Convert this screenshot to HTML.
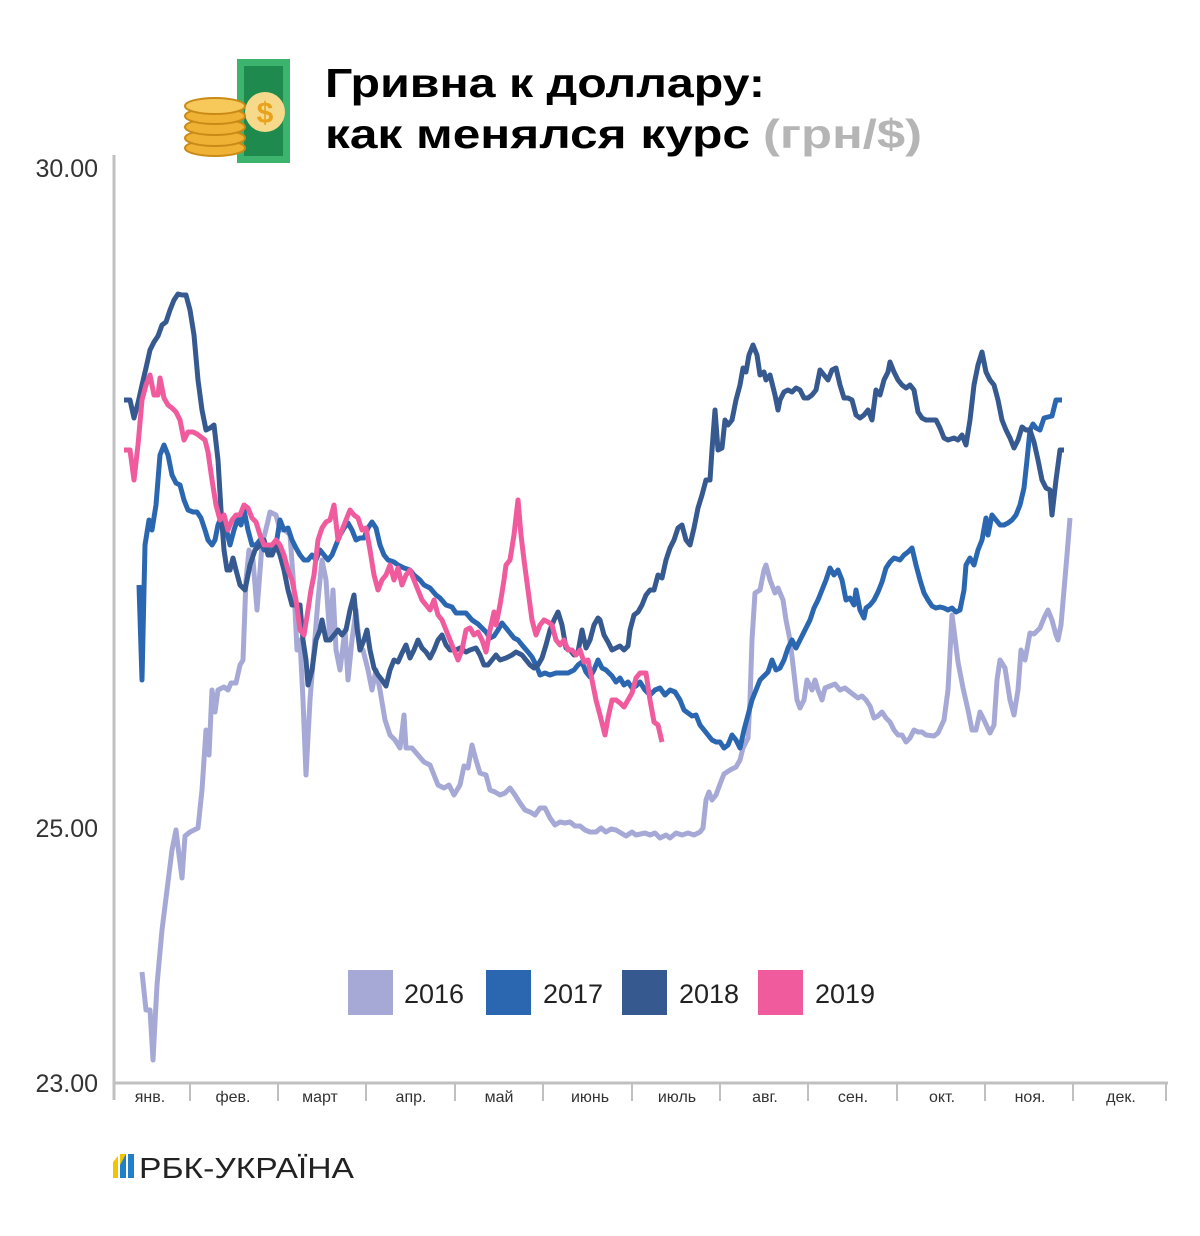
<!DOCTYPE html>
<html><head><meta charset="utf-8"><style>
body{margin:0;background:#fff;width:1200px;height:1231px;overflow:hidden;font-family:"Liberation Sans",sans-serif}
</style></head><body>
<svg width="1200" height="1231" viewBox="0 0 1200 1231" xmlns="http://www.w3.org/2000/svg" font-family="Liberation Sans, sans-serif">
<!-- icon -->
<rect x="237" y="59" width="53" height="104" fill="#3cb46e"/>
<rect x="244" y="66" width="39" height="90" fill="#1f8a4e"/>
<circle cx="265" cy="112" r="20" fill="#f6d98a"/>
<text x="265" y="123" font-size="30" font-weight="bold" fill="#e8a21c" text-anchor="middle">$</text>
<g fill="#f0b234" stroke="#c98a18" stroke-width="2">
<ellipse cx="215" cy="148" rx="30" ry="8"/><ellipse cx="215" cy="138" rx="30" ry="8"/><ellipse cx="215" cy="127" rx="30" ry="8"/><ellipse cx="215" cy="116" rx="30" ry="8"/><ellipse cx="215" cy="106" rx="30" ry="8" fill="#f7c95a"/>
</g>
<text x="325" y="97" font-size="41" font-weight="bold" fill="#000" textLength="440" lengthAdjust="spacingAndGlyphs">Гривна к доллару:</text>
<text x="325" y="148" font-size="41" font-weight="bold" fill="#000" textLength="425" lengthAdjust="spacingAndGlyphs">как менялся курс</text>
<text x="763" y="148" font-size="41" font-weight="bold" fill="#b5b5b5" textLength="159" lengthAdjust="spacingAndGlyphs">(грн/$)</text>
<!-- axes -->
<line x1="114" y1="155" x2="114" y2="1100" stroke="#c0c0c0" stroke-width="3"/>
<line x1="114" y1="1083" x2="1168" y2="1083" stroke="#c0c0c0" stroke-width="3"/>
<g stroke="#c0c0c0" stroke-width="2">
<line x1="190" y1="1083" x2="190" y2="1101"/><line x1="278" y1="1083" x2="278" y2="1101"/><line x1="366" y1="1083" x2="366" y2="1101"/><line x1="455" y1="1083" x2="455" y2="1101"/><line x1="543" y1="1083" x2="543" y2="1101"/><line x1="632" y1="1083" x2="632" y2="1101"/><line x1="720" y1="1083" x2="720" y2="1101"/><line x1="808" y1="1083" x2="808" y2="1101"/><line x1="897" y1="1083" x2="897" y2="1101"/><line x1="985" y1="1083" x2="985" y2="1101"/><line x1="1073" y1="1083" x2="1073" y2="1101"/><line x1="1166" y1="1083" x2="1166" y2="1101"/>
</g>
<g font-size="16" fill="#333" text-anchor="middle">
<text x="150" y="1102">янв.</text><text x="233" y="1102">фев.</text><text x="320" y="1102">март</text><text x="411" y="1102">апр.</text><text x="499" y="1102">май</text><text x="590" y="1102">июнь</text><text x="677" y="1102">июль</text><text x="765" y="1102">авг.</text><text x="853" y="1102">сен.</text><text x="942" y="1102">окт.</text><text x="1030" y="1102">ноя.</text><text x="1121" y="1102">дек.</text>
</g>
<g font-size="25" fill="#333" text-anchor="end">
<text x="98" y="177">30.00</text><text x="98" y="837">25.00</text><text x="98" y="1092">23.00</text>
</g>
<g fill="none" stroke-width="5" stroke-linejoin="round">
<polyline stroke="#a6a9d6" points="142,972 146,1010 150,1010 153,1060 157,985 162,930 167,890 172,850 176,830 179,855 182,878 185,836 190,832 198,828 202,790 206,730 209,755 212,690 215,712 218,690 224,687 228,690 231,683 236,683 240,665 243,660 246,580 249,550 253,560 257,610 262,545 267,525 270,512 276,515 280,530 285,530 290,535 294,590 297,650 300,640 303,700 306,775 310,700 314,650 318,600 322,560 326,580 330,640 333,590 336,650 340,670 345,630 348,680 352,640 356,610 360,650 363,650 368,670 372,690 376,670 380,690 385,720 390,735 395,740 400,748 404,715 406,748 412,748 418,755 424,762 430,765 434,775 438,785 444,788 449,785 454,795 460,785 464,766 468,768 472,745 476,760 480,773 486,775 490,790 495,792 500,795 505,793 510,788 515,795 520,803 525,810 530,812 535,815 540,808 545,808 550,818 555,825 560,822 565,823 570,822 575,826 580,826 585,830 590,832 596,832 601,828 606,832 611,829 616,830 621,833 626,836 632,832 636,835 645,833 650,835 655,833 660,838 666,835 670,838 676,833 682,835 688,833 694,835 700,832 703,828 706,800 709,792 712,800 716,795 720,784 724,774 730,770 736,767 740,760 743,748 748,738 750,700 752,640 755,593 760,590 764,570 766,565 770,580 775,593 778,588 783,600 786,620 790,640 793,665 797,700 800,708 804,700 807,680 812,690 815,680 818,690 822,700 825,688 830,686 835,684 840,690 845,688 850,692 854,695 858,698 862,696 866,700 870,706 874,718 878,716 882,712 886,718 890,722 894,730 898,735 902,735 906,742 910,738 914,730 918,732 922,732 926,735 934,736 938,733 944,720 948,690 952,615 954,630 958,662 963,688 968,710 972,730 976,730 980,712 984,720 990,733 994,725 997,680 1000,660 1005,668 1010,700 1014,715 1018,690 1021,650 1025,660 1030,633 1034,634 1040,628 1044,618 1048,610 1052,620 1056,635 1058,640 1061,625 1064,590 1067,555 1070,518"/>
<polyline stroke="#2b67b1" points="139,585 142,680 145,545 149,520 152,530 156,505 160,455 164,445 168,455 172,475 176,483 180,485 184,500 188,510 193,512 197,512 201,518 205,530 208,540 212,545 215,540 218,525 222,515 226,528 230,545 234,530 238,518 241,525 244,510 248,530 252,545 256,545 260,540 264,550 268,545 272,555 276,545 280,520 284,530 288,528 292,540 296,548 300,555 304,560 308,560 312,555 316,560 320,550 324,555 328,560 332,555 336,545 340,535 344,528 348,523 352,530 356,540 360,538 364,538 368,528 372,522 376,528 380,545 384,555 388,560 394,562 398,565 404,568 410,570 414,575 420,580 424,585 430,588 436,595 440,598 446,605 452,607 456,613 460,613 466,613 472,620 478,624 482,628 486,632 490,638 494,636 498,630 502,623 506,628 510,633 514,638 518,640 522,645 528,652 532,657 536,665 540,675 545,673 550,675 556,673 562,673 568,673 574,670 578,665 582,662 586,672 590,677 594,670 598,660 602,668 606,670 612,676 616,682 620,678 624,685 628,682 632,688 636,686 640,682 645,690 650,695 655,690 660,688 665,695 670,690 675,692 680,700 684,710 688,713 692,716 696,715 700,725 704,730 708,735 712,740 716,742 720,742 724,748 728,745 732,735 736,740 740,748 744,730 748,715 752,700 756,690 760,680 764,676 768,672 772,660 776,670 780,668 784,660 788,648 792,640 796,648 800,640 804,632 810,620 814,608 818,600 822,590 826,580 830,568 834,575 838,570 842,580 846,600 850,598 854,605 856,590 860,610 864,618 866,608 870,605 874,600 878,592 882,582 886,568 890,562 894,558 900,560 904,555 908,552 912,548 916,565 920,580 924,593 928,600 932,606 936,608 940,607 944,608 948,610 952,608 956,612 960,610 964,590 966,565 970,558 974,565 978,550 982,540 986,518 988,535 992,515 996,520 1000,525 1004,525 1008,523 1012,520 1016,515 1020,505 1024,488 1027,460 1030,430 1033,424 1036,428 1040,430 1044,418 1048,417 1052,416 1056,400 1062,400"/>
<polyline stroke="#365990" points="124,400 130,400 134,418 138,403 142,385 146,368 150,350 154,342 158,336 162,325 166,322 170,310 174,300 178,294 182,295 186,295 190,310 194,335 198,380 202,410 206,430 210,428 214,425 218,460 221,510 224,550 227,570 230,570 233,558 236,570 240,585 245,590 250,565 255,550 260,545 264,540 268,555 272,555 276,545 280,555 284,570 288,590 292,605 296,605 300,605 303,640 306,660 308,685 312,670 316,640 320,630 322,620 326,640 330,640 334,635 338,630 342,635 346,630 350,610 354,595 357,628 360,650 364,640 367,630 370,650 374,668 378,675 382,680 386,686 390,670 394,660 398,662 402,653 406,645 410,658 414,650 418,640 422,648 426,652 430,658 434,650 438,640 442,635 446,645 450,650 456,650 460,648 466,652 470,650 476,648 480,655 484,665 488,665 492,660 496,655 500,660 506,658 512,655 516,652 522,655 526,660 530,665 534,668 538,665 542,658 546,645 550,630 554,620 558,612 562,625 566,648 570,650 574,655 578,652 582,630 586,648 590,640 594,625 598,618 600,620 604,635 608,642 612,650 616,648 620,646 624,650 628,646 630,630 634,615 638,612 642,605 646,595 650,590 654,590 658,575 662,578 666,560 670,548 674,540 678,528 682,525 686,540 690,545 694,528 698,508 702,495 706,480 710,480 712,450 715,410 718,450 722,448 725,420 728,425 732,420 736,400 740,385 743,368 746,372 749,355 753,345 757,355 760,375 764,372 766,380 770,375 775,395 778,410 780,400 784,392 788,390 792,392 796,388 800,390 804,398 808,398 812,395 816,390 820,370 824,375 828,380 832,370 836,368 840,385 844,398 848,398 852,400 856,415 860,418 864,415 868,410 872,420 876,390 880,395 884,380 888,372 890,362 894,372 898,380 902,385 906,388 910,385 914,390 918,412 922,418 926,420 930,420 936,420 940,428 944,438 948,440 954,438 958,440 962,435 966,445 970,420 974,385 978,365 982,352 986,372 990,380 994,385 998,400 1002,420 1006,430 1010,438 1014,448 1018,440 1022,427 1026,430 1030,430 1034,442 1038,460 1042,480 1046,488 1050,490 1052,515 1056,480 1060,450 1064,450"/>
<polyline stroke="#ef5b9c" points="124,450 130,450 134,480 138,445 142,400 146,385 150,375 154,395 158,395 160,378 164,398 168,405 172,408 176,412 180,420 184,440 188,432 193,432 197,434 201,437 205,440 208,452 212,480 216,505 220,520 224,515 228,530 232,520 236,515 240,515 244,505 248,508 252,518 256,522 260,535 264,545 268,545 272,545 276,540 280,545 284,555 288,570 292,580 296,600 300,630 304,635 308,610 311,590 314,575 318,540 322,528 326,522 330,520 334,505 338,540 342,530 346,520 350,510 354,515 358,518 362,530 366,528 370,550 374,575 378,590 382,580 386,575 390,565 394,580 398,568 402,585 406,575 410,570 414,580 418,590 422,600 426,605 430,610 434,600 438,615 442,620 446,630 450,640 454,650 458,660 462,650 466,630 470,628 474,635 478,632 482,640 486,652 490,630 494,612 496,625 500,605 504,580 506,565 510,560 514,535 518,500 521,535 524,560 528,590 532,620 536,635 540,625 544,620 548,622 552,625 556,640 560,645 564,640 568,650 572,650 576,655 580,650 584,662 588,660 592,680 596,700 600,715 605,735 608,718 612,700 616,700 620,703 624,707 628,700 632,693 636,678 640,673 646,673 650,700 654,722 658,725 662,742"/>
</g>
<!-- legend -->
<rect x="348" y="970" width="45" height="45" fill="#a6a9d6"/>
<text x="404" y="1003" font-size="27" fill="#222">2016</text>
<rect x="486" y="970" width="45" height="45" fill="#2b67b1"/>
<text x="543" y="1003" font-size="27" fill="#222">2017</text>
<rect x="622" y="970" width="45" height="45" fill="#365990"/>
<text x="679" y="1003" font-size="27" fill="#222">2018</text>
<rect x="758" y="970" width="45" height="45" fill="#ef5b9c"/>
<text x="815" y="1003" font-size="27" fill="#222">2019</text>
<!-- logo -->
<polygon points="113,1178 113,1162 118,1156 118,1178" fill="#f2c500"/>
<polygon points="120,1178 120,1154 126,1154 126,1178" fill="#1f7fc8"/>
<polygon points="128,1178 128,1154 134,1154 134,1178" fill="#1f7fc8"/>
<polygon points="120,1165 126,1154 120,1154" fill="#f2c500"/>
<text x="139" y="1178" font-size="29" fill="#222" textLength="215" lengthAdjust="spacingAndGlyphs">РБК-УКРАЇНА</text>
</svg>
</body></html>
